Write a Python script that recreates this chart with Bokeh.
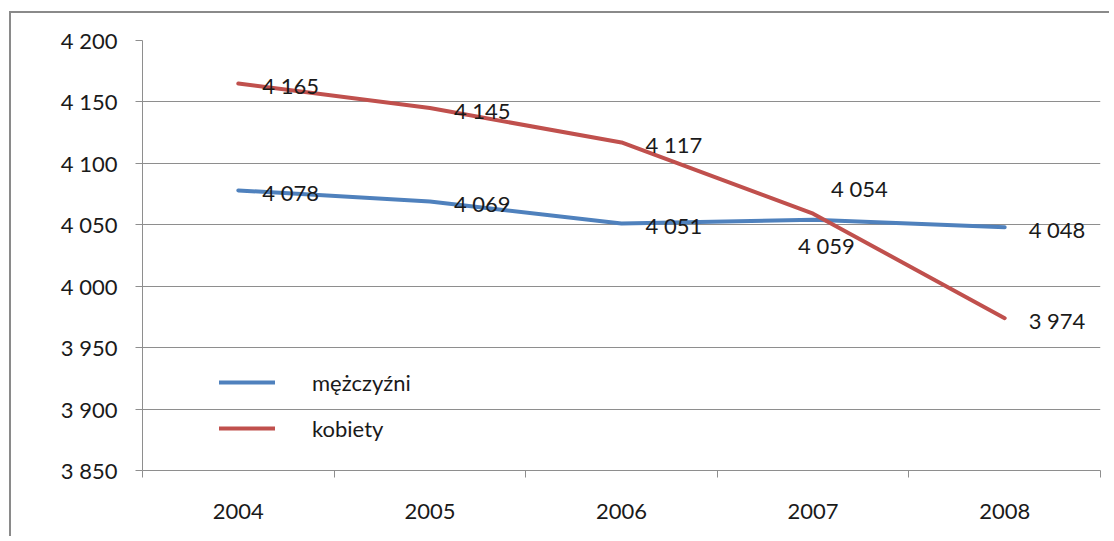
from bokeh.plotting import figure
from bokeh.models import FixedTicker, Legend, LegendItem, ColumnDataSource, Range1d
from bokeh.core.properties import value
from bokeh.embed import file_html
from bokeh.resources import INLINE

# ---- data ----
years = ["2004", "2005", "2006", "2007", "2008"]
men = [4078, 4069, 4051, 4054, 4048]
women = [4165, 4145, 4117, 4059, 3974]
series_names = ["mężczyźni", "kobiety"]
y_ticks = [3850, 3900, 3950, 4000, 4050, 4100, 4150, 4200]

# label placement (screen px offsets, styling only)
men_dx = [24, 24, 24, 18, 24]
men_dy = [2, 2, 2, -31, 2]
women_dx = [24, 24, 24, -15, 24]
women_dy = [2, 2, 2, 32, 2]

BLUE = "#4F81BD"
RED = "#C0504D"
GRID = "#8E8E8E"
FONT = "Lato"

def fmt(v):
    return f"{v:,}".replace(",", " ")

xs = [i + 1 for i in range(len(years))]

p = figure(width=1100, height=525,
           x_range=Range1d(0.5, len(years) + 0.5),
           y_range=Range1d(y_ticks[0], y_ticks[-1]),
           output_backend="svg", toolbar_location=None,
           min_border_left=131, min_border_right=11,
           min_border_top=27, min_border_bottom=68)
# outer chart frame (cut off on the right and bottom, as in the reference)
p.styles = {"border-left": "2px solid #8a8a8a", "border-top": "2px solid #8a8a8a",
            "margin-left": "9px", "margin-top": "11px"}
p.outline_line_color = None
p.background_fill_color = "white"
p.border_fill_color = "white"

p.xgrid.visible = False
p.ygrid.grid_line_color = GRID
p.ygrid.grid_line_width = 1

# y axis
p.yaxis.ticker = FixedTicker(ticks=y_ticks, minor_ticks=[])
p.yaxis.major_label_overrides = {t: fmt(t) for t in y_ticks}
p.yaxis.axis_line_color = GRID
p.yaxis.major_tick_line_color = GRID
p.yaxis.major_tick_in = 0
p.yaxis.major_tick_out = 7
p.yaxis.minor_tick_line_color = None
p.yaxis.major_label_standoff = 18
p.yaxis.major_label_text_font = FONT
p.yaxis.major_label_text_font_size = "22px"
p.yaxis.major_label_text_color = "#1a1a1a"

# x axis
p.xaxis.ticker = FixedTicker(ticks=xs, minor_ticks=[i + 0.5 for i in range(len(years) + 1)])
p.xaxis.major_label_overrides = {x: y for x, y in zip(xs, years)}
p.xaxis.axis_line_color = GRID
p.xaxis.major_tick_in = 0
p.xaxis.major_tick_out = 0
p.xaxis.minor_tick_line_color = GRID
p.xaxis.minor_tick_in = 0
p.xaxis.minor_tick_out = 7
p.xaxis.major_label_standoff = 26
p.xaxis.major_label_text_font = FONT
p.xaxis.major_label_text_font_size = "22px"
p.xaxis.major_label_text_color = "#1a1a1a"

src = ColumnDataSource(dict(
    x=xs, men=men, women=women,
    men_lbl=[fmt(v) for v in men], women_lbl=[fmt(v) for v in women],
    men_dx=men_dx, men_dy=men_dy, women_dx=women_dx, women_dy=women_dy,
))

r_men = p.line("x", "men", source=src, line_color=BLUE, line_width=4, line_cap="round", line_join="round")
r_women = p.line("x", "women", source=src, line_color=RED, line_width=4, line_cap="round", line_join="round")

p.text("x", "men", text="men_lbl", source=src, x_offset="men_dx", y_offset="men_dy",
       text_align="left", text_baseline="middle", text_font=value(FONT),
       text_font_size="22px", text_color="#1a1a1a")
p.text("x", "women", text="women_lbl", source=src, x_offset="women_dx", y_offset="women_dy",
       text_align="left", text_baseline="middle", text_font=value(FONT),
       text_font_size="22px", text_color="#1a1a1a")

legend = Legend(items=[LegendItem(label=series_names[0], renderers=[r_men]),
                       LegendItem(label=series_names[1], renderers=[r_women])],
                location=(77, 19), orientation="vertical")
legend.glyph_width = 56
legend.glyph_height = 46
legend.label_height = 46
legend.spacing = 0
legend.padding = 0
legend.margin = 0
legend.label_standoff = 37
legend.border_line_color = None
legend.background_fill_alpha = 0
legend.label_text_font = FONT
legend.label_text_font_size = "22px"
legend.label_text_color = "#1a1a1a"
legend.label_text_baseline = "middle"
p.add_layout(legend, "center")

open("out.html", "w").write(file_html(p, INLINE))
